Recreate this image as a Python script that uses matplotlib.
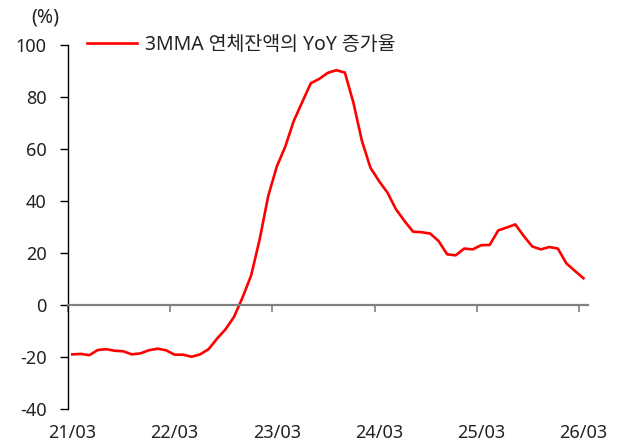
import matplotlib
matplotlib.use("Agg")
import matplotlib.pyplot as plt
import matplotlib.transforms as mtransforms

plt.rcParams['font.family'] = ['Noto Sans', 'Noto Sans CJK KR', 'DejaVu Sans']

series_label = "3MMA 연체잔액의 YoY 증가율"
tick_labels = ["21/03", "22/03", "23/03", "24/03", "25/03", "26/03"]
values = [
    -19.0, -18.8, -19.3, -17.3, -17.0, -17.6, -17.8, -19.0, -18.6, -17.4,
    -16.8, -17.4, -19.1, -19.1, -19.9, -19.0, -17.0, -12.9, -9.3, -4.5,
    3.0, 11.4, 25.3, 41.9, 53.2, 60.9, 70.8, 78.1, 85.3, 87.0,
    89.3, 90.3, 89.4, 77.8, 63.1, 52.8, 47.7, 43.2, 36.8, 32.3,
    28.2, 28.0, 27.5, 24.6, 19.5, 19.1, 21.7, 21.4, 23.0, 23.1,
    28.7, 29.8, 31.0, 26.5, 22.5, 21.4, 22.3, 21.7, 16.0, 13.1,
    10.3,
]
y_ticks = [-40, -20, 0, 20, 40, 60, 80, 100]

W, H = 621, 446
fig = plt.figure(figsize=(W / 100, H / 100), dpi=100)
ax = fig.add_axes([68 / W, 1 - 409 / H, (587.7 - 68) / W, (409 - 45) / H])

n = len(values)
xs = [i + 0.5 for i in range(n)]
ax.plot(xs, values, color='#FF0000', lw=1.9, label=series_label, solid_joinstyle='round')

ax.set_xlim(0, n)
ax.set_ylim(-40, 100)
ax.set_yticks(y_ticks)
ax.set_yticklabels([str(v) for v in y_ticks], fontsize=13, color='#222222')
ax.tick_params(axis='y', direction='out', length=6, width=1, color='black', pad=9.5)

for s in ['top', 'right']:
    ax.spines[s].set_visible(False)
ax.spines['left'].set_color('black')
ax.spines['left'].set_linewidth(1.0)
ax.spines['bottom'].set_position(('data', 0))
ax.spines['bottom'].set_color('#808080')
ax.spines['bottom'].set_linewidth(1.6)

major = [12 * k for k in range(len(tick_labels))]
ax.set_xticks(major)
ax.set_xticklabels([])
ax.tick_params(axis='x', direction='out', length=5, width=1.2, color='#808080')

trans = mtransforms.blended_transform_factory(ax.transData, fig.transFigure)
for k, lab in enumerate(tick_labels):
    ax.text(major[k] + 0.5, 1 - 433 / H, lab, transform=trans, ha='center', va='center',
            fontsize=13, color='#222222')

fig.text(45 / W, 1 - 18 / H, "(%)", ha='center', va='center', fontsize=14, color='#222222')

ax.legend(loc='center left', bbox_to_anchor=(86.7 / W, 1 - 45 / H), bbox_transform=fig.transFigure,
          frameon=False, fontsize=14, handlelength=2.58, handletextpad=0.43,
          borderpad=0, borderaxespad=0)
for t in ax.get_legend().get_texts():
    t.set_color('#222222')

fig.savefig("out.png", dpi=100)
